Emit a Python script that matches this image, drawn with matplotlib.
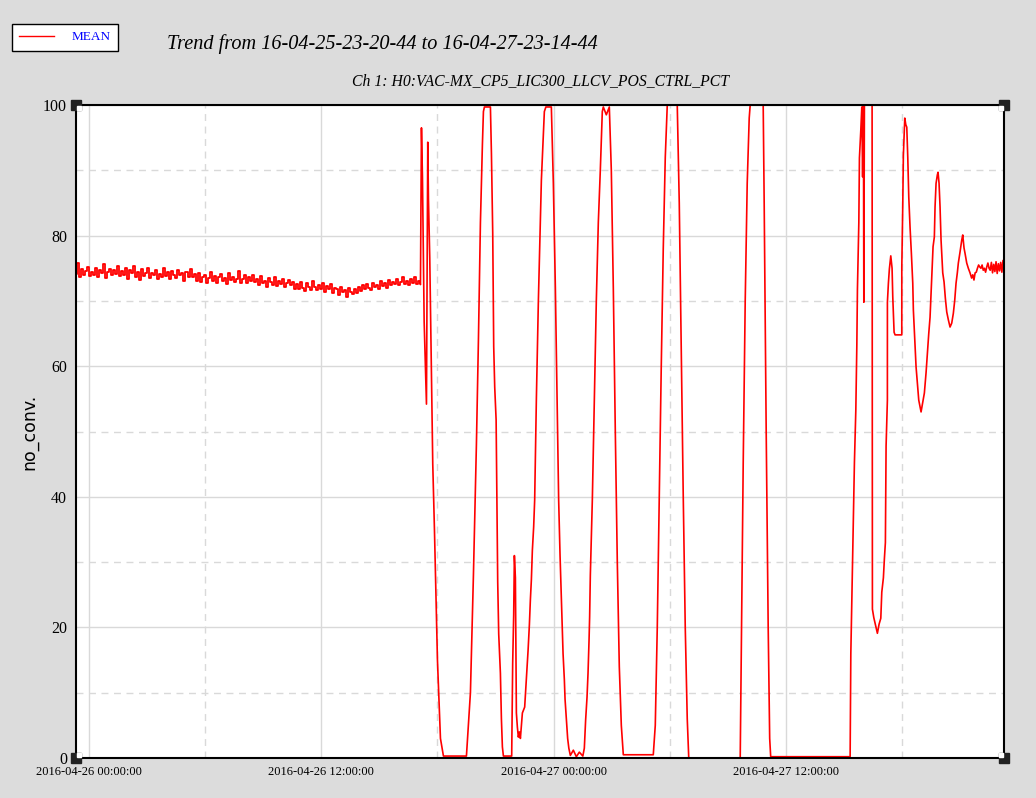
import matplotlib
matplotlib.use("Agg")
import matplotlib.pyplot as plt
import matplotlib.dates as mdates
import matplotlib.transforms as mtransforms
import numpy as np
import pandas as pd

# --- data ---------------------------------------------------------------
channel = "Ch 1: H0:VAC-MX_CP5_LIC300_LLCV_POS_CTRL_PCT"
title = "Trend from 16-04-25-23-20-44 to 16-04-27-23-14-44"
t_start = pd.Timestamp("2016-04-25 23:20:44")
t_end = pd.Timestamp("2016-04-27 23:14:44")
t_ref = pd.Timestamp("2016-04-26 00:00:00")

# quiet period before the disturbance, evenly sampled
baseline = [
    74.1, 75.8, 73.6, 74.9, 73.9, 74.6, 75.2, 73.8, 74.5, 74.0,
    75.1, 73.7, 74.8, 74.2, 75.6, 73.5, 74.4, 74.9, 73.9, 74.7,
    74.1, 75.3, 73.8, 74.6, 74.0, 75.0, 73.4, 74.8, 74.3, 75.4,
    73.6, 74.5, 73.2, 74.9, 73.8, 74.3, 75.1, 73.5, 74.2, 73.9,
    74.8, 73.4, 74.1, 73.7, 75.0, 73.8, 74.4, 73.3, 74.6, 74.0,
    73.5, 74.7, 73.9, 74.2, 73.1, 74.5, 73.7, 74.9, 73.6, 74.1,
    73.0, 74.2, 72.9, 73.6, 74.0, 72.7, 73.5, 74.4, 73.1, 73.8,
    72.8, 73.6, 74.1, 73.0, 73.5, 72.6, 74.3, 73.2, 73.7, 72.9,
    73.4, 74.6, 72.8, 73.3, 73.9, 72.7, 73.6, 73.1, 74.0, 72.9,
    73.3, 72.4, 73.8, 72.7, 73.1, 72.2, 73.5, 72.9, 72.5, 73.6,
    72.3, 73.0, 72.6, 73.4, 72.1, 72.8, 73.2, 72.4, 72.9, 71.9,
    72.6, 71.8, 72.9, 72.0, 71.5, 72.7, 72.2, 71.7, 73.0, 72.1,
    71.6, 72.5, 71.9, 72.8, 71.4, 72.3, 71.8, 72.6, 71.2, 72.0,
    71.9, 70.9, 72.2, 71.3, 71.7, 70.6, 72.0, 71.4, 71.0, 71.8,
    71.2, 72.1, 71.5, 72.4, 71.8, 72.6, 72.0, 71.7, 72.8, 72.2,
    72.5, 71.9, 73.1, 72.3, 72.7, 72.0, 73.2, 72.4, 72.9, 72.6,
    73.3, 72.4, 72.9, 73.6, 72.6, 73.1, 72.5, 73.4, 72.8, 73.7,
    72.6, 73.0,
]
baseline_hours = (-0.654, 17.07)

# disturbance: hours since 2016-04-26 00:00 and value
event_hours = [
    17.122, 17.174, 17.225, 17.277, 17.313, 17.396, 17.432, 17.499, 17.535,
    17.602, 17.654, 17.690, 17.726, 17.757, 17.844, 17.999, 18.154, 18.308,
    18.927, 19.495, 19.701, 19.856, 20.010, 20.114, 20.217, 20.320, 20.372,
    20.423, 20.578, 20.733, 20.785, 20.852, 20.903, 20.955, 21.027, 21.109,
    21.161, 21.248, 21.300, 21.351, 21.403, 21.609, 21.831, 21.882, 21.934,
    21.970, 22.022, 22.073, 22.125, 22.176, 22.228, 22.280, 22.383, 22.501,
    22.625, 22.677, 22.744, 22.795, 22.847, 22.898, 22.965, 23.017, 23.105,
    23.208, 23.363, 23.517, 23.595, 23.723, 23.878, 23.981, 24.085, 24.188,
    24.255, 24.327, 24.379, 24.430, 24.482, 24.549, 24.585, 24.652, 24.719,
    24.781, 24.858, 25.013, 25.168, 25.322, 25.503, 25.580, 25.647, 25.719,
    25.771, 25.823, 25.854, 25.890, 25.941, 25.993, 26.096, 26.199, 26.302,
    26.405, 26.508, 26.560, 26.715, 26.870, 26.973, 27.076, 27.179, 27.282,
    27.385, 27.489, 27.592, 29.139, 29.242, 29.345, 29.448, 29.551, 29.654,
    29.758, 29.861, 30.376, 30.480, 30.583, 30.686, 30.789, 30.892, 30.970,
    33.626, 33.677, 33.780, 33.884, 33.987, 34.090, 34.141, 34.812, 34.863,
    34.967, 35.070, 35.147, 35.199, 39.299, 39.335, 39.402, 39.469, 39.521,
    39.593, 39.645, 39.676, 39.748, 39.779, 39.851, 39.902, 39.944, 39.985,
    40.006, 40.036, 40.433, 40.449, 40.521, 40.639, 40.706, 40.794, 40.882,
    40.933, 41.016, 41.067, 41.119, 41.155, 41.222, 41.223, 41.274, 41.325,
    41.397, 41.464, 41.500, 41.568, 41.619, 41.965, 41.966, 42.016, 42.047,
    42.120, 42.171, 42.223, 42.274, 42.326, 42.393, 42.460, 42.532, 42.563,
    42.635, 42.702, 42.769, 42.841, 42.960, 43.131, 43.218, 43.285, 43.357,
    43.424, 43.512, 43.579, 43.646, 43.682, 43.734, 43.801, 43.837, 43.889,
    43.940, 43.992, 44.079, 44.147, 44.214, 44.286, 44.369, 44.456, 44.543,
    44.626, 44.698, 44.765, 44.832, 44.884, 44.972, 45.059, 45.111, 45.178,
    45.229, 45.317, 45.400, 45.487, 45.570, 45.630, 45.690, 45.750, 45.810,
    45.870, 45.930, 45.990, 46.050, 46.110, 46.170, 46.230, 46.290, 46.350,
    46.410, 46.470, 46.530, 46.590, 46.650, 46.710, 46.770, 46.830, 46.890,
    46.950, 47.010, 47.070, 47.130, 47.190, 47.245,
]
event_values = [
    72.5, 96.5, 89.0, 75.8, 66.8, 58.3, 54.2, 94.3, 85.6,
    76.6, 66.3, 58.2, 52.0, 45.0, 35.0, 15.0, 3.0, 0.3,
    0.3, 0.3, 10.0, 28.0, 48.0, 64.0, 82.0, 94.0, 99.0,
    99.7, 99.7, 99.7, 92.6, 80.4, 63.0, 56.8, 51.8, 27.0,
    19.0, 13.0, 6.0, 1.7, 0.3, 0.3, 0.3, 14.5, 21.9,
    31.0, 27.6, 6.9, 4.7, 3.2, 4.0, 3.0, 6.9, 7.8,
    14.0, 16.5, 20.4, 24.2, 27.3, 31.8, 35.4, 39.5, 55.0,
    70.0, 88.5, 99.0, 99.7, 99.7, 99.7, 88.0, 72.0, 52.0,
    39.5, 31.0, 26.0, 21.0, 16.0, 12.0, 9.0, 6.0, 3.0,
    1.5, 0.4, 1.2, 0.2, 0.9, 0.3, 1.5, 5.8, 9.3,
    13.0, 18.0, 21.6, 28.0, 33.4, 39.5, 55.0, 70.0, 82.0,
    90.0, 99.0, 99.7, 98.5, 99.7, 90.0, 72.0, 50.0, 30.0,
    14.0, 5.0, 0.5, 0.5, 5.0, 20.0, 40.0, 60.0, 78.0,
    92.0, 100.0, 100.0, 85.0, 62.0, 40.0, 20.0, 6.0, 0.0,
    0.0, 15.0, 45.0, 70.0, 88.0, 98.0, 100.0, 100.0, 85.0,
    50.0, 20.0, 3.0, 0.2, 0.2, 16.0, 26.5, 37.0, 45.3,
    53.3, 63.2, 71.8, 82.0, 91.9, 96.2, 99.7, 89.0, 100.0,
    69.8, 100.0, 100.0, 22.8, 21.5, 20.0, 19.1, 20.5, 21.4,
    25.4, 27.6, 30.5, 33.0, 47.8, 54.8, 69.8, 72.7, 74.9,
    76.9, 75.0, 70.6, 65.2, 64.8, 64.8, 75.2, 84.7, 92.3,
    98.0, 97.0, 96.6, 92.0, 85.9, 81.2, 77.3, 72.7, 68.6,
    64.0, 59.9, 57.4, 54.8, 53.0, 55.9, 59.0, 62.0, 65.0,
    67.5, 73.7, 78.3, 79.8, 84.4, 88.0, 89.3, 89.7, 88.0,
    84.4, 79.3, 74.3, 72.9, 70.4, 68.3, 67.1, 66.0, 66.6,
    68.1, 70.1, 72.7, 74.3, 75.8, 77.5, 79.3, 80.1, 78.1,
    77.3, 75.8, 75.0, 74.3, 73.5, 74.0, 73.2, 74.3, 74.4,
    75.0, 75.5, 75.2, 75.0, 75.5, 74.7, 75.0, 74.4, 75.2,
    75.8, 75.0, 74.7, 75.9, 74.3, 75.6, 74.5, 76.0, 74.2,
    75.7, 74.6, 75.9, 74.4, 76.2, 74.5,
]

# --- build series -------------------------------------------------------
base_times = t_ref + pd.to_timedelta(np.linspace(*baseline_hours, len(baseline)), unit="h")
# event part starts from the last baseline sample so the trace is continuous
ev_times = t_ref + pd.to_timedelta(np.r_[baseline_hours[1], event_hours], unit="h")
ev_values = np.r_[baseline[-1], event_values]

# --- plot ---------------------------------------------------------------
bg = "#dcdcdc"
serif = ["Liberation Serif", "DejaVu Serif"]

fig = plt.figure(figsize=(10.36, 7.98), dpi=100, facecolor=bg)
ax = fig.add_axes([0.0734, 0.0501, 0.8958, 0.8183])
ax.set_facecolor("white")

line, = ax.plot(base_times, baseline, color="red", lw=1.3,
                drawstyle="steps-mid", label="MEAN")
ax.plot(ev_times, ev_values, color="red", lw=1.2)

ax.set_xlim(t_start, t_end)
ax.set_ylim(0, 100)

ax.xaxis.set_major_locator(mdates.HourLocator(byhour=[0, 12]))
ax.xaxis.set_minor_locator(mdates.HourLocator(byhour=[6, 18]))
ax.xaxis.set_major_formatter(mdates.DateFormatter("%Y-%m-%d %H:%M:%S"))
ax.set_yticks([0, 20, 40, 60, 80, 100])
ax.set_yticks([10, 30, 50, 70, 90], minor=True)

ax.grid(which="major", color="#d9d9d9", lw=1.0, ls="-")
ax.grid(which="minor", color="#d9d9d9", lw=1.0, ls=(0, (5, 4)))
ax.set_axisbelow(True)

ax.tick_params(which="both", length=0)
ax.tick_params(axis="y", pad=6.5, labelsize=11.5)
ax.tick_params(axis="x", pad=6, labelsize=9)
for lab in ax.get_xticklabels() + ax.get_yticklabels():
    lab.set_family(serif)

for sp in ax.spines.values():
    sp.set_linewidth(1.5)
    sp.set_color("black")

ax.set_ylabel("no_conv.", fontsize=12.5, family="DejaVu Sans")
ax.yaxis.set_label_coords(-0.041, 0.5)
ax.set_title(channel, fontsize=11.3, style="italic", family=serif, pad=14)
fig.text(0.369, 0.945, title, fontsize=14.6, style="italic", family=serif,
         ha="center", va="center")

# corner squares
cx = [0, 1, 0, 1]
cy = [0, 0, 1, 1]
ax.plot(cx, cy, "s", ms=7.5, color="#222222", transform=ax.transAxes,
        clip_on=False, zorder=5)
for x, y in zip(cx, cy):
    dx = 3 if x == 0 else -3
    dy = 3 if y == 0 else -3
    tr = mtransforms.offset_copy(ax.transAxes, fig=fig, x=dx, y=dy, units="dots")
    ax.plot([x], [y], "s", ms=2.2, color="white", transform=tr,
            clip_on=False, zorder=6)

leg = fig.legend(handles=[line], labels=["MEAN"], loc="upper left",
                 bbox_to_anchor=(0.0116, 0.970), borderaxespad=0,
                 frameon=True, fancybox=False, edgecolor="black",
                 framealpha=1, borderpad=0.55, handlelength=2.6,
                 handletextpad=1.4, prop={"family": serif, "size": 9.5})
leg.get_frame().set_linewidth(1.0)
leg.legend_handles[0].set_linewidth(1.0)
leg.legend_handles[0].set_drawstyle("default")
for txt in leg.get_texts():
    txt.set_color("blue")

fig.savefig("out.png", dpi=100, facecolor=bg)
